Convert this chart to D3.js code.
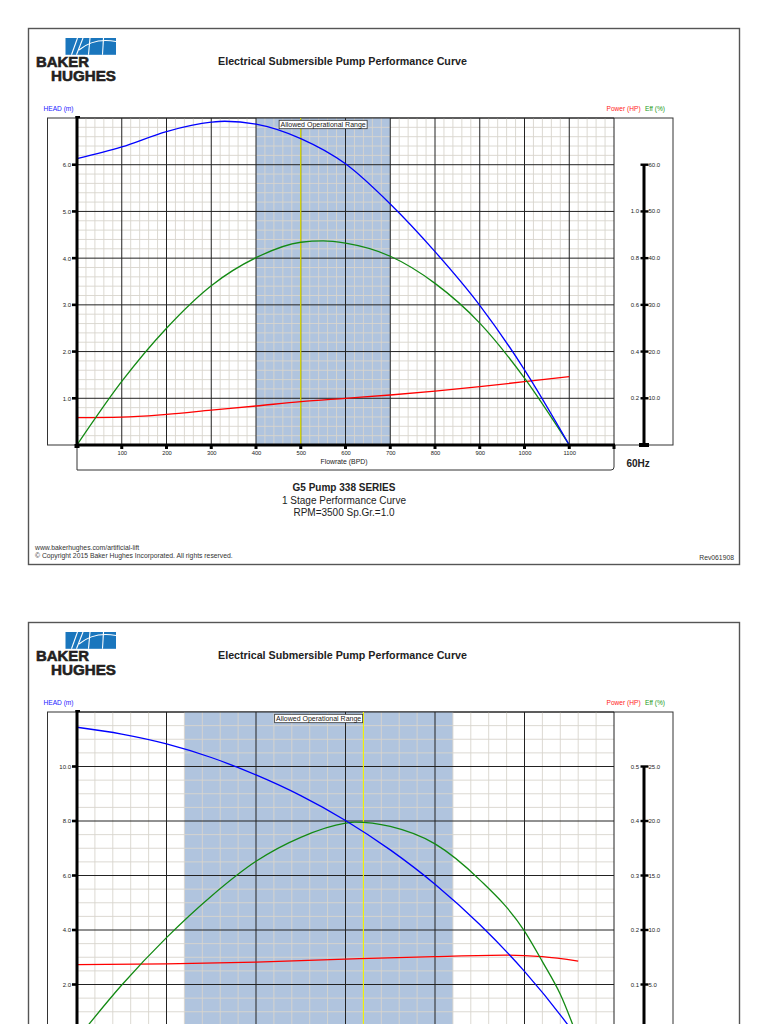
<!DOCTYPE html>
<html>
<head>
<meta charset="utf-8">
<script src="https://cdn.jsdelivr.net/npm/d3@7"></script>
<style>
  html, body { margin: 0; padding: 0; background: #fff; overflow: hidden; }
  svg { display: block; font-family: "Liberation Sans", Arial, sans-serif; }
</style>
</head>
<body>
<svg id="chart" width="768" height="1024" viewBox="0 0 768 1024"></svg>
<script>
// ---- page 1 : G5 Pump 338 series ----
const headFlow1 = [0, 100, 200, 300, 330, 400, 500, 600, 700, 800, 900, 1000, 1100];
const head1 = [6.13, 6.38, 6.71, 6.91, 6.93, 6.87, 6.56, 6.02, 5.16, 4.14, 2.99, 1.61, 0];
const effFlow1 = [0, 100, 200, 300, 400, 500, 550, 600, 700, 800, 900, 1000, 1100];
const eff1 = [0, 13.6, 25.0, 34.1, 40.1, 43.4, 43.7, 43.2, 40.4, 34.6, 26.1, 14.3, 0];
const powerFlow1 = [0, 100, 200, 300, 400, 500, 600, 700, 800, 900, 1000, 1100];
const power1 = [0.117, 0.119, 0.131, 0.149, 0.167, 0.186, 0.200, 0.214, 0.231, 0.250, 0.271, 0.293];
const xLabels1 = [100, 200, 300, 400, 500, 600, 700, 800, 900, 1000, 1100];
const headLabels1 = [1, 2, 3, 4, 5, 6];
const powerLabels1 = [0.2, 0.4, 0.6, 0.8, 1.0];
const effLabels1 = [10, 20, 30, 40, 50, 60];
const range1 = [400, 700];
const bep1 = 500;

// ---- page 2 (lower page, cut off by the window) ----
const headFlow2 = [0, 250, 500, 750, 1000, 1250, 1500, 1750, 2000, 2250, 2500, 2750, 2800];
const head2 = [11.44, 11.19, 10.83, 10.33, 9.69, 8.93, 8.02, 6.94, 5.68, 4.2, 2.48, 0.45, 0];
const effFlow2 = [0, 250, 500, 750, 1000, 1250, 1500, 1550, 1750, 2000, 2250, 2500, 2600, 2700, 2800];
const eff2 = [0, 4.95, 9.3, 13.1, 16.3, 18.5, 19.8, 19.9, 19.5, 17.9, 14.6, 9.9, 7.1, 4.1, 0];
const powerFlow2 = [0, 500, 1000, 1500, 2000, 2400, 2600, 2800];
const power2 = [0.1365, 0.1378, 0.141, 0.1465, 0.1513, 0.154, 0.151, 0.143];
const xLabels2 = [500, 1000, 1500, 2000, 2500];
const headLabels2 = [2, 4, 6, 8, 10];
const powerLabels2 = [0.1, 0.2, 0.3, 0.4, 0.5];
const effLabels2 = [5, 10, 15, 20, 25];
const range2 = [600, 2100];
const bep2 = 1600;

const pages = [
  {
    off: 0, showBottom: true,
    xDomain: [0, 1200], xMajor: 100, xMinor: 20, xLabels: xLabels1,
    headDomain: [0, 7], yMajor: 1, yMinor: 0.2, headLabels: headLabels1,
    powerDomain: [0, 1.4], powerLabels: powerLabels1,
    effDomain: [0, 70], effLabels: effLabels1,
    range: range1, bep: bep1,
    head: [headFlow1, head1], eff: [effFlow1, eff1], power: [powerFlow1, power1],
    subtitle: ['G5 Pump 338 SERIES', '1 Stage Performance Curve', 'RPM=3500 Sp.Gr.=1.0']
  },
  {
    off: 594, showBottom: false,
    xDomain: [0, 3000], xMajor: 500, xMinor: 100, xLabels: xLabels2,
    headDomain: [0, 12], yMajor: 2, yMinor: 0.5, headLabels: headLabels2,
    powerDomain: [0, 0.6], powerLabels: powerLabels2,
    effDomain: [0, 30], effLabels: effLabels2,
    range: range2, bep: bep2,
    head: [headFlow2, head2], eff: [effFlow2, eff2], power: [powerFlow2, power2],
    subtitle: []
  }
];

const svg = d3.select('#chart');
const PL = 77, PR = 614, PT = 118, PB = 445;
const rAxisX = 644;

function drawLogo(g) {
  const lg = g.append('g');
  lg.append('rect').attr('x', 65.5).attr('y', 38).attr('width', 50.5).attr('height', 16.8)
    .attr('fill', '#1a76bd');
  const strokes = ['M71.5,54.8 L77.5,38', 'M76.5,54.8 L83,38', 'M88.5,54.8 L90,38',
                   'M102.5,54.8 L103.5,38', 'M79,50 Q94,37.5 116,41.5'];
  lg.selectAll('path').data(strokes).enter().append('path')
    .attr('d', d => d).attr('fill', 'none').attr('stroke', '#fff').attr('stroke-width', 1.1);
  // two-line wordmark kept in one text element
  const word = lg.append('text')
    .attr('font-size', 15.5).attr('font-weight', 'bold').attr('fill', '#231f20')
    .attr('stroke', '#231f20').attr('stroke-width', 0.6);
  [['BAKER', 36, 67.4, 53], ['HUGHES', 51, 80.8, 65]].forEach(([t, tx, ty, w]) => {
    word.append('tspan').attr('x', tx).attr('y', ty).text(t)
      .attr('textLength', w).attr('lengthAdjust', 'spacingAndGlyphs');
  });
}

function drawPage(cfg) {
  const g = svg.append('g').attr('transform', `translate(0, ${cfg.off})`);

  // page border
  g.append('rect').attr('x', 28.5).attr('y', 28.5).attr('width', 711).attr('height', 536)
    .attr('fill', '#fff').attr('stroke', '#555').attr('stroke-width', 1.4);

  drawLogo(g);

  g.append('text').attr('x', 342.5).attr('y', 64.8).attr('text-anchor', 'middle')
    .attr('font-size', 10.7).attr('font-weight', 'bold').attr('fill', '#222')
    .text('Electrical Submersible Pump Performance Curve');

  g.append('text').attr('x', 43.5).attr('y', 111).attr('font-size', 6.6).attr('fill', '#1a1aff')
    .text('HEAD (m)');
  g.append('text').attr('x', 606.5).attr('y', 111).attr('font-size', 6.6).attr('fill', '#ff1a1a')
    .text('Power (HP)');
  g.append('text').attr('x', 645).attr('y', 111).attr('font-size', 6.6).attr('fill', '#1a9a1a')
    .text('Eff (%)');

  const x = d3.scaleLinear().domain(cfg.xDomain).range([PL, PR]);
  const y = d3.scaleLinear().domain(cfg.headDomain).range([PB, PT]);
  const yPow = d3.scaleLinear().domain(cfg.powerDomain).range([PB, PT]);
  const yEff = d3.scaleLinear().domain(cfg.effDomain).range([PB, PT]);

  // frames
  g.append('rect').attr('x', 47.5).attr('y', PT).attr('width', 673 - 47.5).attr('height', PB - PT)
    .attr('fill', 'none').attr('stroke', '#333').attr('stroke-width', 1);
  g.append('path').attr('d', `M${PL},${PB} V470 H${PR - 3} Q${PR},470 ${PR},467 V${PB}`)
    .attr('fill', 'none').attr('stroke', '#333').attr('stroke-width', 1);

  // allowed operational range
  g.append('rect').attr('x', x(cfg.range[0])).attr('y', PT)
    .attr('width', x(cfg.range[1]) - x(cfg.range[0])).attr('height', PB - PT)
    .attr('fill', '#b0c4de');

  // grid
  const xMinor = d3.range(cfg.xDomain[0], cfg.xDomain[1] + 1e-9, cfg.xMinor);
  const yMinor = d3.range(cfg.headDomain[0], cfg.headDomain[1] + 1e-9, cfg.yMinor);
  const isMajor = (v, step) => Math.abs(v / step - Math.round(v / step)) < 1e-6;
  const grid = g.append('g');
  grid.selectAll('.vmin').data(xMinor.filter(v => !isMajor(v, cfg.xMajor))).enter().append('line')
    .attr('x1', d => x(d)).attr('x2', d => x(d)).attr('y1', PT).attr('y2', PB)
    .attr('stroke', '#d8d5cd').attr('stroke-width', 0.9);
  grid.selectAll('.hmin').data(yMinor.filter(v => !isMajor(v, cfg.yMajor))).enter().append('line')
    .attr('y1', d => y(d)).attr('y2', d => y(d)).attr('x1', PL).attr('x2', PR)
    .attr('stroke', '#d8d5cd').attr('stroke-width', 0.9);
  grid.selectAll('.vmaj').data(xMinor.filter(v => isMajor(v, cfg.xMajor) && v > 0)).enter().append('line')
    .attr('x1', d => x(d)).attr('x2', d => x(d)).attr('y1', PT).attr('y2', PB)
    .attr('stroke', '#222').attr('stroke-width', 1);
  grid.selectAll('.hmaj').data(yMinor.filter(v => isMajor(v, cfg.yMajor) && v > 0)).enter().append('line')
    .attr('y1', d => y(d)).attr('y2', d => y(d)).attr('x1', PL).attr('x2', PR)
    .attr('stroke', '#222').attr('stroke-width', 1);

  // best efficiency point marker
  g.append('line').attr('x1', x(cfg.bep)).attr('x2', x(cfg.bep)).attr('y1', PT).attr('y2', PB)
    .attr('stroke', '#f2f200').attr('stroke-width', 1.1);

  // curves
  const curve = (series, scale, color) => {
    const pts = series[0].map((f, i) => [f, series[1][i]]);
    g.append('path').datum(pts)
      .attr('d', d3.line().x(d => x(d[0])).y(d => scale(d[1])).curve(d3.curveMonotoneX))
      .attr('fill', 'none').attr('stroke', color).attr('stroke-width', 1.3);
  };
  curve(cfg.power, yPow, '#ff0000');
  curve(cfg.eff, yEff, '#138a13');
  curve(cfg.head, y, '#0000ff');

  // range label
  const mid = x((cfg.range[0] + cfg.range[1]) / 2);
  g.append('rect').attr('x', mid - 44).attr('y', PT + 2.3).attr('width', 88).attr('height', 8.4)
    .attr('fill', '#fff').attr('stroke', '#333').attr('stroke-width', 0.8);
  g.append('text').attr('x', mid).attr('y', PT + 8.9).attr('text-anchor', 'middle')
    .attr('font-size', 7).attr('fill', '#222').text('Allowed Operational Range');

  // left axis
  g.append('line').attr('x1', PL).attr('x2', PL).attr('y1', PT - 2).attr('y2', PB + 2)
    .attr('stroke', '#000').attr('stroke-width', 3);
  g.append('line').attr('x1', PL - 1.5).attr('x2', PL + 3).attr('y1', PT - 1).attr('y2', PT - 1)
    .attr('stroke', '#000').attr('stroke-width', 2);
  g.selectAll('.ytick').data(cfg.headLabels).enter().append('rect')
    .attr('x', PL - 5).attr('y', d => y(d) - 1.3).attr('width', 4).attr('height', 2.6).attr('fill', '#000');
  g.append('g').attr('transform', `translate(${PL - 6},0)`)
    .call(d3.axisLeft(y).tickValues(cfg.headLabels).tickSize(0).tickPadding(0).tickFormat(d3.format('.1f')))
    .call(a => a.select('.domain').remove())
    .attr('font-size', 6).attr('font-family', null)
    .selectAll('text').attr('fill', '#222');

  // bottom axis
  g.append('line').attr('x1', PL).attr('x2', PR + 1).attr('y1', PB).attr('y2', PB)
    .attr('stroke', '#000').attr('stroke-width', 3);
  g.selectAll('.xtick').data(xMinor.filter(v => isMajor(v, cfg.xMajor) && v > 0)).enter().append('rect')
    .attr('x', d => x(d) - 1.5).attr('y', PB).attr('width', 3).attr('height', 4).attr('fill', '#000');
  g.append('rect').attr('x', PL - 2.5).attr('y', PB - 1).attr('width', 5).attr('height', 4).attr('fill', '#000');
  if (cfg.showBottom) {
    g.append('g').attr('transform', `translate(0,${PB + 6.3})`)
      .call(d3.axisBottom(x).tickValues(cfg.xLabels).tickSize(0).tickPadding(0).tickFormat(d3.format('d')))
      .call(a => a.select('.domain').remove())
      .attr('font-size', 5.8).attr('font-family', null)
      .selectAll('text').attr('fill', '#222');
    g.append('text').attr('x', 344).attr('y', 463.5).attr('text-anchor', 'middle')
      .attr('font-size', 6.9).attr('fill', '#222').text('Flowrate (BPD)');
    g.append('text').attr('x', 626.5).attr('y', 467).attr('font-size', 10).attr('font-weight', 'bold')
      .attr('fill', '#222').text('60Hz');
  }

  // right axis (power / efficiency)
  const effTop = d3.max(cfg.effLabels);
  g.append('line').attr('x1', rAxisX).attr('x2', rAxisX).attr('y1', yEff(effTop)).attr('y2', PB)
    .attr('stroke', '#000').attr('stroke-width', 3);
  g.selectAll('.rtick').data(cfg.effLabels).enter().append('rect')
    .attr('x', rAxisX - 3.5).attr('y', d => yEff(d) - 1.2).attr('width', 8).attr('height', 2.4).attr('fill', '#000');
  g.append('rect').attr('x', rAxisX - 5).attr('y', PB - 2).attr('width', 10).attr('height', 4).attr('fill', '#000');
  g.selectAll('.plab').data(cfg.powerLabels).enter().append('text')
    .attr('x', rAxisX - 5).attr('y', d => yPow(d) + 2).attr('text-anchor', 'end')
    .attr('font-size', 6).attr('fill', '#222').text(d3.format('.1f'));
  g.selectAll('.elab').data(cfg.effLabels).enter().append('text')
    .attr('x', rAxisX + 4.5).attr('y', d => yEff(d) + 2)
    .attr('font-size', 6).attr('fill', '#222').text(d3.format('.1f'));

  // subtitle block
  cfg.subtitle.forEach((s, i) => {
    g.append('text').attr('x', 344).attr('y', 491 + i * 12.6).attr('text-anchor', 'middle')
      .attr('font-size', 10).attr('font-weight', i === 0 ? 'bold' : 'normal')
      .attr('fill', '#222').text(s);
  });

  if (cfg.showBottom) {
    g.append('text').attr('x', 35).attr('y', 549.5).attr('font-size', 6.8).attr('fill', '#333')
      .text('www.bakerhughes.com/artificial-lift');
    g.append('text').attr('x', 35).attr('y', 557.5).attr('font-size', 6.8).attr('fill', '#333')
      .text('© Copyright 2015 Baker Hughes Incorporated. All rights reserved.');
    g.append('text').attr('x', 734).attr('y', 560).attr('text-anchor', 'end')
      .attr('font-size', 6.8).attr('fill', '#333').text('Rev061908');
  }
}

pages.forEach(drawPage);
</script>
</body>
</html>
